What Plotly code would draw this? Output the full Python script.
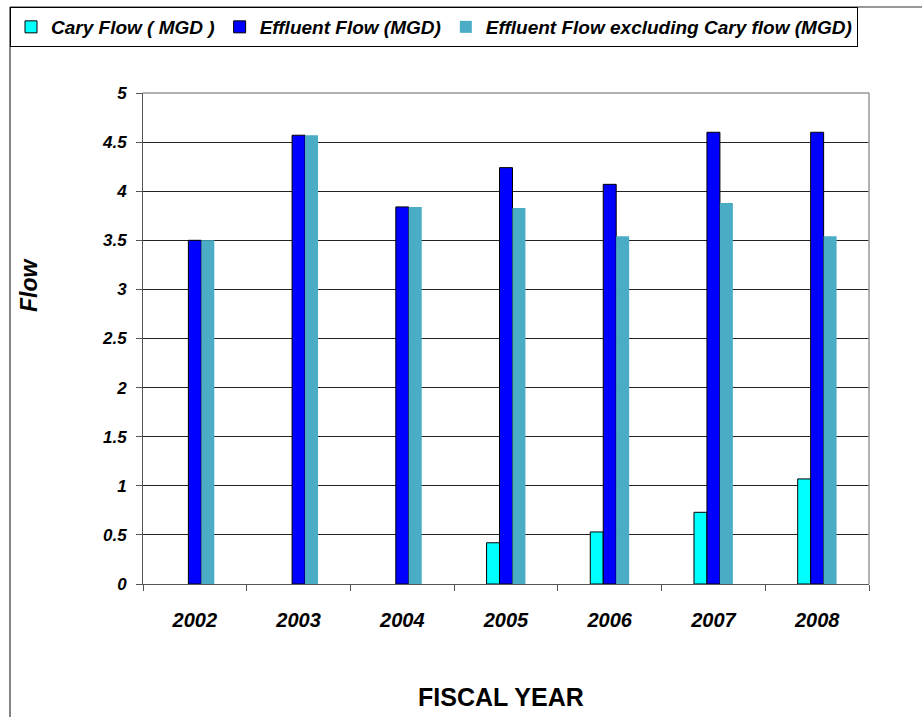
import plotly.graph_objects as go

years = ["2002", "2003", "2004", "2005", "2006", "2007", "2008"]
cary_flow = [None, None, None, 0.42, 0.53, 0.73, 1.07]
effluent_flow = [3.50, 4.57, 3.84, 4.24, 4.07, 4.60, 4.60]
effluent_excl_cary = [3.50, 4.57, 3.84, 3.83, 3.54, 3.88, 3.54]
y_tick_vals = [0, 0.5, 1, 1.5, 2, 2.5, 3, 3.5, 4, 4.5, 5]
y_tick_text = ["0", "0.5", "1", "1.5", "2", "2.5", "3", "3.5", "4", "4.5", "5"]

W, H = 922, 717
L, R, T, B = 143, 869, 93, 584
pw, ph = R - L, B - T


def px(x):
    return (x - L) / pw


def py(y):
    return (B - y) / ph


FONT = "Liberation Sans, Arial, sans-serif"

fig = go.Figure()
fig.add_trace(go.Bar(name="Cary Flow ( MGD )", x=years, y=cary_flow,
                     marker=dict(color="#00FFFF", line=dict(color="#000000", width=1))))
fig.add_trace(go.Bar(name="Effluent Flow (MGD)", x=years, y=effluent_flow,
                     marker=dict(color="#0000FF", line=dict(color="#000000", width=1))))
fig.add_trace(go.Bar(name="Effluent Flow excluding Cary flow (MGD)", x=years, y=effluent_excl_cary,
                     marker=dict(color="#4BACC6", line=dict(color="#4BACC6", width=0))))

fig.update_layout(
    width=W, height=H,
    margin=dict(l=L, r=W - R, t=T, b=H - B, pad=0, autoexpand=False),
    paper_bgcolor="white", plot_bgcolor="white",
    barmode="group", bargap=0.625, bargroupgap=0,
    font=dict(family=FONT, color="black"),
    showlegend=True,
    legend=dict(orientation="h", x=px(10), y=py(7), xanchor="left", yanchor="top",
                bgcolor="white", bordercolor="#000000", borderwidth=1,
                font=dict(family=FONT, size=19, weight="bold", style="italic", color="black"),
                itemwidth=30, traceorder="normal"),
    xaxis=dict(type="category", showgrid=False, showline=True, linecolor="#555555", linewidth=1,
               ticks="outside", tickson="boundaries", ticklen=6, tickcolor="#555555",
               tickfont=dict(family=FONT, size=20, weight="bold", style="italic", color="black"),
               ticklabelstandoff=18, fixedrange=True, automargin=False),
    yaxis=dict(range=[0, 5], tickvals=y_tick_vals, ticktext=y_tick_text,
               showgrid=True, gridcolor="#222222", gridwidth=1, zeroline=False,
               showline=True, linecolor="#555555", linewidth=1,
               ticks="outside", ticklen=6, tickcolor="#555555",
               tickfont=dict(family=FONT, size=17, weight="bold", style="italic", color="black"),
               ticklabelstandoff=6, fixedrange=True, automargin=False),
    annotations=[
        dict(text="Flow", x=px(29), y=py(285), xref="paper", yref="paper", showarrow=False,
             textangle=-90, xanchor="center", yanchor="middle",
             font=dict(family=FONT, size=23, weight="bold", style="italic", color="black")),
        dict(text="FISCAL YEAR", x=px(501), y=py(697), xref="paper", yref="paper", showarrow=False,
             xanchor="center", yanchor="middle",
             font=dict(family=FONT, size=25, weight="bold", color="black")),
    ],
    shapes=[
        dict(type="line", xref="paper", yref="paper", x0=0, x1=1, y0=1, y1=1,
             line=dict(color="#999999", width=1.5), layer="above"),
        dict(type="line", xref="paper", yref="paper", x0=1, x1=1, y0=0, y1=1,
             line=dict(color="#999999", width=1.5), layer="above"),
        dict(type="line", xref="paper", yref="paper", x0=px(10), x1=px(10), y0=py(717), y1=py(7),
             line=dict(color="#333333", width=1.2), layer="below"),
        dict(type="line", xref="paper", yref="paper", x0=px(10), x1=px(922), y0=py(7), y1=py(7),
             line=dict(color="#333333", width=1.2), layer="below"),
    ],
)

fig.write_html("out.html")
